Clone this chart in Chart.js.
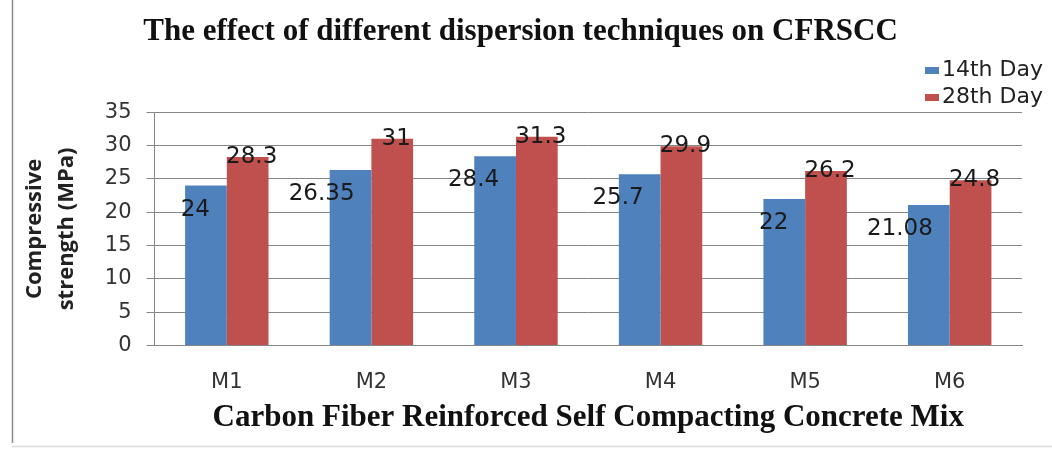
<!DOCTYPE html>
<html>
<head>
<meta charset="utf-8">
<script src="https://cdn.jsdelivr.net/npm/chart.js@4.4.0/dist/chart.umd.min.js"></script>
<style>
  body { margin: 0; background: #fff; }
  #wrap { width: 1052px; height: 453px; position: relative; }
</style>
</head>
<body>
<div id="wrap"><canvas id="myChart"></canvas></div>
<script>
// Data
const mixes = ["M1", "M2", "M3", "M4", "M5", "M6"];
const day14 = [24, 26.35, 28.4, 25.7, 22, 21.08];
const day28 = [28.3, 31, 31.3, 29.9, 26.2, 24.8];
const seriesNames = ["14th Day", "28th Day"];
const yMax = 35;
const yStep = 5;

const blue = "#4F81BD";
const red = "#C0504D";

// value labels, drawn like the old Excel ones (a bit off the bars)
const barLabels = {
  id: "barLabels",
  afterDatasetsDraw(chart) {
    const ctx = chart.ctx;
    ctx.save();
    ctx.font = "23px 'DejaVu Sans'";
    ctx.fillStyle = "#1a1a1a";
    ctx.textBaseline = "middle";
    chart.data.datasets.forEach((ds, i) => {
      chart.getDatasetMeta(i).data.forEach((bar, j) => {
        const txt = String(ds.data[j]);
        if (i === 0) {
          ctx.textAlign = "right";
          ctx.fillText(txt, bar.x + 4, bar.y + 24);
        } else {
          ctx.textAlign = "center";
          ctx.fillText(txt, bar.x + 4, bar.y);
        }
      });
    });
    ctx.restore();
  },
};

// legend in the top right corner + the frame of the picture
const cornerLegend = {
  id: "cornerLegend",
  afterDraw(chart) {
    const ctx = chart.ctx;
    const x0 = chart.width - 127;
    const rows = [70, 97];
    ctx.save();
    ctx.font = "22px 'DejaVu Sans'";
    ctx.textBaseline = "middle";
    ctx.textAlign = "left";
    chart.data.datasets.forEach((ds, i) => {
      ctx.fillStyle = ds.backgroundColor;
      ctx.fillRect(x0, rows[i] - 3, 14, 7);
      ctx.fillStyle = "#222";
      ctx.fillText(ds.label, x0 + 17, rows[i]);
    });
    // frame lines
    ctx.strokeStyle = "#8c8c8c";
    ctx.lineWidth = 1.5;
    ctx.beginPath();
    ctx.moveTo(12.5, 0);
    ctx.lineTo(12.5, 443);
    ctx.stroke();
    ctx.strokeStyle = "#dddddd";
    ctx.beginPath();
    ctx.moveTo(12, 446.5);
    ctx.lineTo(chart.width, 446.5);
    ctx.stroke();
    ctx.restore();
  },
};

new Chart("myChart", {
  type: "bar",
  data: {
    labels: mixes,
    datasets: [
      {
        label: seriesNames[0],
        data: day14,
        backgroundColor: blue,
        categoryPercentage: 0.577,
        barPercentage: 1,
      },
      {
        label: seriesNames[1],
        data: day28,
        backgroundColor: red,
        categoryPercentage: 0.577,
        barPercentage: 1,
      },
    ],
  },
  options: {
    responsive: true,
    maintainAspectRatio: false,
    animation: false,
    layout: {
      padding: { left: 19, right: 30, bottom: 16, top: 0 },
    },
    scales: {
      x: {
        grid: { display: false },
        border: { display: true, color: "#868686", width: 1 },
        ticks: {
          color: "#333",
          padding: 16,
          font: { size: 21, family: "DejaVu Sans" },
        },
        title: {
          display: true,
          text: "Carbon Fiber Reinforced Self Compacting Concrete Mix",
          color: "#111",
          font: { size: 31, weight: "bold", family: "Liberation Serif" },
          padding: { top: -11, bottom: 0 },
        },
      },
      y: {
        min: 0,
        max: yMax,
        grid: { color: "#868686", tickLength: 8 },
        border: { display: true, color: "#868686", width: 1 },
        ticks: {
          stepSize: yStep,
          color: "#333",
          padding: 15,
          font: { size: 21, family: "DejaVu Sans" },
        },
        title: {
          display: true,
          text: ["Compressive", "strength (MPa)"],
          color: "#222",
          font: { size: 22, weight: "bold", family: "Open Sans", lineHeight: 1.45 },
          padding: { top: 0, bottom: 7 },
        },
      },
    },
    plugins: {
      legend: { display: false },
      tooltip: { enabled: false },
      title: {
        display: true,
        text: "The effect of different dispersion techniques on CFRSCC",
        color: "#111",
        font: { size: 31, weight: "bold", family: "Liberation Serif" },
        padding: { top: 13, bottom: 62 },
      },
    },
  },
  plugins: [barLabels, cornerLegend],
});
</script>
</body>
</html>
